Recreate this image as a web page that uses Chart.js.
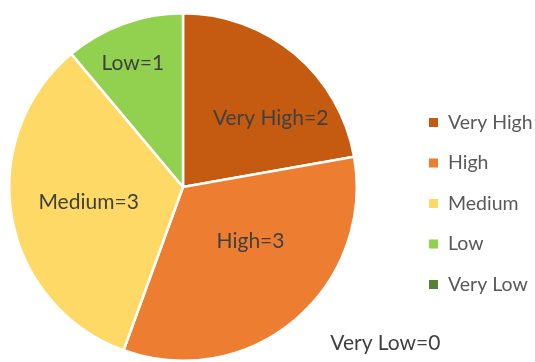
<!DOCTYPE html>
<html>
<head>
<meta charset="utf-8">
<script src="https://cdn.jsdelivr.net/npm/chart.js@4.4.1/dist/chart.umd.min.js"></script>
<style>
  html, body { margin: 0; padding: 0; background: #fff; }
  #riskPie { display: block; }
</style>
</head>
<body>
<canvas id="riskPie" width="535" height="362"></canvas>
<script>
const categories = ["Very High", "High", "Medium", "Low", "Very Low"]
const counts = [2, 3, 3, 1, 0]
const colors = ["#C55A11", "#ED7D31", "#FFD966", "#92D050", "#548235"]

// where each "name=value" label sits: [angle shift from slice middle (deg), radius fraction]
const labelPlacement = [[12, 0.64], [-11, 0.50], [1, 0.55], [-2, 0.77], [127.6, 1.47]]

const FONT = "Lato, 'Open Sans', sans-serif"

// draws the value labels on (or next to) each slice
const sliceLabels = {
  id: "sliceLabels",
  afterDatasetsDraw(chart) {
    const ctx = chart.ctx
    const arcs = chart.getDatasetMeta(0).data
    ctx.save()
    ctx.font = "21px " + FONT
    ctx.fillStyle = "#404040"
    ctx.textAlign = "center"
    ctx.textBaseline = "middle"
    arcs.forEach((arc, i) => {
      const p = arc.getProps(["x", "y", "startAngle", "endAngle", "outerRadius"], true)
      const [shift, frac] = labelPlacement[i]
      const a = (p.startAngle + p.endAngle) / 2 + shift * Math.PI / 180
      const r = p.outerRadius * frac
      ctx.fillText(categories[i] + "=" + counts[i], p.x + Math.cos(a) * r, p.y + Math.sin(a) * r)
    })
    ctx.restore()
  }
}

// legend on the right, small square markers
const sideLegend = {
  id: "sideLegend",
  afterDraw(chart) {
    const ctx = chart.ctx
    ctx.save()
    ctx.font = "19.5px " + FONT
    ctx.textBaseline = "middle"
    ctx.textAlign = "left"
    categories.forEach((name, i) => {
      const y = 122.5 + i * 40.5
      ctx.fillStyle = colors[i]
      ctx.fillRect(429, y - 4.5, 9, 9)
      ctx.fillStyle = "#595959"
      ctx.fillText(name, 448, y)
    })
    ctx.restore()
  }
}

const ctx = document.getElementById("riskPie")

new Chart(ctx, {
  type: "pie",
  data: {
    labels: categories,
    datasets: [{
      data: counts,
      backgroundColor: colors,
      borderColor: "#ffffff",
      borderWidth: 2.5
    }]
  },
  options: {
    responsive: false,
    animation: false,
    layout: {
      padding: { left: 8, right: 177, top: 12, bottom: 0 }
    },
    plugins: {
      legend: { display: false },
      tooltip: { enabled: false }
    }
  },
  plugins: [sliceLabels, sideLegend]
})
</script>
</body>
</html>
